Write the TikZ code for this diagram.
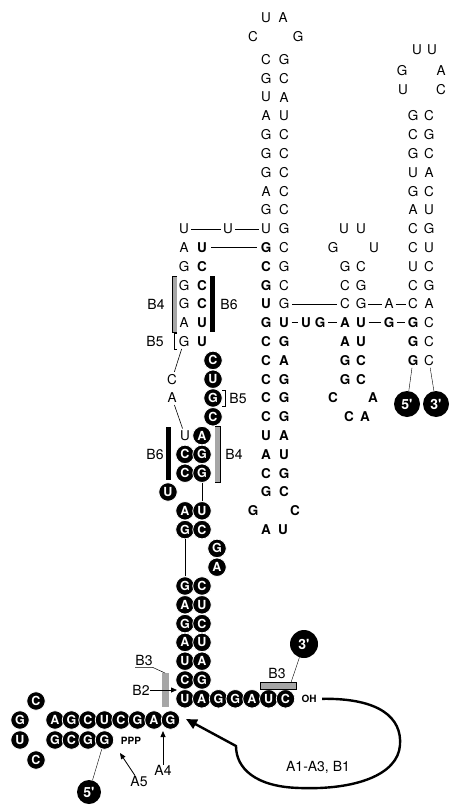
\documentclass[tikz,border=0pt]{standalone}
\usepackage{fontspec}
\setmainfont{TeX Gyre Heros}
\usetikzlibrary{arrows.meta}
\newcommand{\ntfont}{\fontsize{13.5}{13.5}\selectfont}
\newcommand{\cnfont}{\fontsize{12.5}{12.5}\selectfont\bfseries}
\newcommand{\tmfont}{\fontsize{14}{14}\selectfont\bfseries}
\newcommand{\smfont}{\fontsize{10}{10}\selectfont\bfseries}
\begin{document}
\begin{tikzpicture}[x=1pt,y=-1pt,
  declare function={ry(\n)=3.2+18.8*\n;},
  nt/.style={inner sep=0pt, font=\ntfont},
  bt/.style={inner sep=0pt, font=\ntfont\bfseries},
  cn/.style={circle, fill=black, draw=white, line width=0.8pt, minimum size=18.5pt, inner sep=0pt, text=white, font=\cnfont},
  tm/.style={circle, fill=black, minimum size=26pt, inner sep=0pt, text=white, font=\tmfont},
  lab/.style={inner sep=0pt, font=\fontsize{14}{14}\selectfont},
  link/.style={line width=0.6pt, shorten <=2pt, shorten >=2pt},
  blink/.style={line width=1.3pt, shorten <=2.5pt, shorten >=2.5pt},
  stip/.style={fill=black!35},
  tip/.style={-{Triangle[length=6pt,width=5pt]}, line width=0.8pt}
]
\useasboundingbox (0,0) rectangle (451,805);
% main stem
\node[nt] (ml1) at (266,{ry(0.75)}) {U};
\node[nt] (mr1) at (283,{ry(0.75)}) {A};
\node[nt] (ml2) at (253,{ry(1.8)}) {C};
\node[nt] (mr2) at (298,{ry(1.8)}) {G};
\foreach \q/\a/\b in {3/C/G,4/G/C,5/U/A,6/A/U,7/G/C,8/G/C,9/G/C,10/A/C,11/G/C,12/U/G}{
  \node[nt] (ml\q) at (266,{ry(\q)}) {\a};
  \node[nt] (mr\q) at (284,{ry(\q)}) {\b};}
\foreach \q/\a/\b in {13/G/C,14/C/G,15/G/C,16/U/G}{
  \node[bt] (ml\q) at (266,{ry(\q)}) {\a};
  \node[nt] (mr\q) at (284,{ry(\q)}) {\b};}
\foreach \q/\a/\b in {17/G/U,18/C/G,19/C/A,20/C/G,21/C/G,22/C/G,23/U/A,24/A/U,25/C/G,26/G/C}{
  \node[bt] (ml\q) at (266,{ry(\q)}) {\a};
  \node[bt] (mr\q) at (284,{ry(\q)}) {\b};}
\node[bt] (ml27) at (253,{ry(27)}) {G};
\node[bt] (mr27) at (295,{ry(27)}) {C};
\node[bt] (ml28) at (266,{ry(28)}) {A};
\node[bt] (mr28) at (283,{ry(28)}) {U};

% left arm
\node[nt] (lu12) at (184,{ry(12)}) {U};
\node[nt] (lm12) at (228,{ry(12)}) {U};
\foreach \q/\a/\b in {13/A/U,14/G/C,15/G/C,16/G/C,17/A/U,18/G/U}{
  \node[nt] (la\q) at (184,{ry(\q)}) {\a};
  \node[bt] (lb\q) at (202,{ry(\q)}) {\b};}
\draw[link] (lu12) -- (lm12);
\draw[link] (lm12) -- (ml12);
\draw[blink, shorten <=4pt, shorten >=4pt] (lb13) -- (ml13);
\fill[stip] (172,{ry(15)-9}) rectangle (177,{ry(17)+9});
\draw[line width=0.5pt] (177,{ry(15)-9}) -| (172,{ry(17)+9}) -- (177,{ry(17)+9});
\node[lab] (b4u) at (156,{ry(16)}) {B4};
\fill (210,{ry(15)-9}) rectangle (215,{ry(17)+9});
\node[lab] (b6u) at (229,{ry(16)}) {B6};
\draw[line width=0.6pt] (177,{ry(18)-8}) -| (174,{ry(18)+8}) -- (177,{ry(18)+8});
\node[lab] (b5u) at (155,{ry(18)}) {B5};
\node[nt] (lc20) at (172,{ry(20)}) {C};
\node[nt] (la21) at (172,{ry(21)}) {A};

% circled strand
\foreach \q/\a in {19/C,20/U,21/G,22/C} \node[cn] (cc\q) at (213,{ry(\q)}) {\a};
\draw[line width=0.6pt] (222,{ry(21)-8}) -| (225,{ry(21)+8}) -- (222,{ry(21)+8});
\node[lab] (b5l) at (238,{ry(21)}) {B5};
\node[nt] (lu23) at (185,{ry(23)}) {U};
\node[cn] (cb23) at (202,{ry(23)}) {A};
\foreach \q/\a/\b in {24/C/G,25/C/G,27/A/U,28/G/C,31/G/C,32/A/U,33/G/C,34/A/U,35/U/A,36/C/G}{
  \node[cn] (ca\q) at (185,{ry(\q)}) {\a};
  \node[cn] (cb\q) at (202,{ry(\q)}) {\b};}
\node[cn] (cu26) at (168,{ry(26)}) {U};
\node[cn] (cg29) at (217,{ry(29)}) {G};
\node[cn] (ca30) at (217,{ry(30)}) {A};
\foreach \a [count=\i from 0] in {U,A,G,G,A,U,C}
  \node[cn] (h\i) at ({185+16.75*\i},{ry(37)}) {\a};
\node[font=\smfont] (oh) at (309,{ry(37)}) {OH};
\draw[link] (la18) -- (lc20);
\draw[link] (la21) -- (lu23);
\draw[line width=0.8pt] (cb25) -- (cb27);
\draw[line width=0.8pt] (ca28) -- (ca31);
\fill (166,{ry(23)-9}) rectangle (171,{ry(25)+7});
\node[lab] (b6l) at (155,{ry(24)}) {B6};
\fill[stip] (215,{ry(23)-9}) rectangle (220,{ry(25)+9});
\draw[line width=0.5pt] (215,{ry(23)-9}) -| (220,{ry(25)+9}) -- (215,{ry(25)+9});
\node[lab] (b4l) at (234,{ry(24)}) {B4};

% middle arm
\node[nt] (nu12) at (344,{ry(12)}) {U};
\node[nt] (nv12) at (361,{ry(12)}) {U};
\node[nt] (nl13) at (333,{ry(13)}) {G};
\node[nt] (nr13) at (374,{ry(13)}) {U};
\foreach \q/\a/\b in {14/G/C,15/C/G,16/C/G}{
  \node[nt] (nl\q) at (345,{ry(\q)}) {\a};
  \node[nt] (nr\q) at (361,{ry(\q)}) {\b};}
\foreach \q/\a/\b in {17/A/U,18/A/U,19/G/C,20/G/C}{
  \node[bt] (nl\q) at (345,{ry(\q)}) {\a};
  \node[bt] (nr\q) at (361,{ry(\q)}) {\b};}
\node[bt] (nl21) at (333,{ry(21)}) {C};
\node[bt] (nr21) at (373,{ry(21)}) {A};
\node[bt] (nl22) at (349,{ry(22)}) {C};
\node[bt] (nr22) at (365,{ry(22)}) {A};
\node[nt] (nx16) at (389,{ry(16)}) {A};
\node[bt] (nx17) at (389,{ry(17)}) {G};
\node[bt] (ju17) at (306,{ry(17)}) {U};
\node[bt] (jg17) at (320,{ry(17)}) {G};

% right arm
\node[nt] (rt1) at (417,{ry(2.5)}) {U};
\node[nt] (rt2) at (432,{ry(2.5)}) {U};
\node[nt] (rg4) at (402,{ry(3.6)}) {G};
\node[nt] (ra4) at (441,{ry(3.6)}) {A};
\node[nt] (ru5) at (403,{ry(4.6)}) {U};
\node[nt] (rc5) at (441,{ry(4.6)}) {C};
\foreach \q/\a/\b in {6/G/C,7/C/G,8/G/C,9/U/A,10/G/C,11/A/U,12/C/G,13/C/U,14/U/C,15/C/G,16/C/A}{
  \node[nt] (ra\q) at (413,{ry(\q)}) {\a};
  \node[nt] (rb\q) at (429,{ry(\q)}) {\b};}
\foreach \q in {17,18,19}{
  \node[bt] (ra\q) at (413,{ry(\q)}) {G};
  \node[nt] (rb\q) at (429,{ry(\q)}) {C};}
\node[tm] (e5) at (407,404) {5\textquotesingle};
\node[tm] (e3) at (436,404) {3\textquotesingle};
\draw[line width=0.4pt, shorten <=2pt] (ra19) -- (e5);
\draw[line width=0.4pt, shorten <=2pt] (rb19) -- (e3);

% junction links
\draw[link, shorten <=3pt, shorten >=3pt] (mr16) -- (nl16);
\draw[link] (nr16) -- (nx16);
\draw[link] (nx16) -- (ra16);
\draw[blink] (mr17) -- (ju17);
\draw[blink] (jg17) -- (nl17);
\draw[blink] (nr17) -- (nx17);
\draw[blink] (nx17) -- (ra17);

% 5' end strand
\foreach \a [count=\i from 0] in {A,G,C,U,C,G,A,G}
  \node[cn] (t\i) at ({55+16.5*\i},720) {\a};
\foreach \a [count=\i from 0] in {G,C,G,G}
  \node[cn] (s\i) at ({55+16.5*\i},740) {\a};
\node[cn] (lc1) at (36,701) {C};
\node[cn] (lg) at (20,720) {G};
\node[cn] (lu) at (20,740) {U};
\node[cn] (lc2) at (36,760) {C};
\node[font=\smfont] (ppp) at (131,741) {PPP};
\node[tm, minimum size=24pt] (e5b) at (89,792) {5\textquotesingle};
\draw[line width=0.4pt] (s3) -- (e5b);
\node[lab] (a5) at (139,781) {A5};
\coordinate (a5tip) at (120,753);
\draw[tip] ([xshift=-4pt]a5.north) -- (a5tip);
\node[lab] (a4) at (163,770) {A4};
\coordinate (a4tip) at (163,731);
\draw[tip] (a4.north) -- (a4tip);

% B2 / B3 marks
\fill[stip] (162,673) rectangle (169,707);
\coordinate (b3bar) at (165,673);
\node[lab] (b3l) at (144,660) {B3};
\draw[line width=0.5pt] ([yshift=-2pt]b3l.south west) -- ([yshift=-2pt]b3l.south east) -- (b3bar);
\node[lab] (b2) at (141,690) {B2};
\coordinate (b2tip) at (177,690);
\draw[tip] (b2.east) -- (b2tip);
\node[tm, minimum size=28pt] (e3b) at (304,644) {3\textquotesingle};
\draw[line width=0.4pt] (e3b) -- (h6);
\draw[stip, draw=black, line width=0.5pt] (260,682) rectangle (296,689);
\node[lab] (b3r) at (277,673) {B3};

% ribozyme arrow
\coordinate (bigtip) at (186,719);
\draw[line width=2.4pt, -{Triangle[length=11pt,width=10pt]}] ([xshift=2pt]oh.east) .. controls (380,698) and (402,718) .. (400,745) .. controls (398,775) and (355,790) .. (300,788) .. controls (255,787) and (236,768) .. (236,746) -- (bigtip);
\node[lab] (a13) at (318,767) {A1-A3, B1};
\end{tikzpicture}
\end{document}
